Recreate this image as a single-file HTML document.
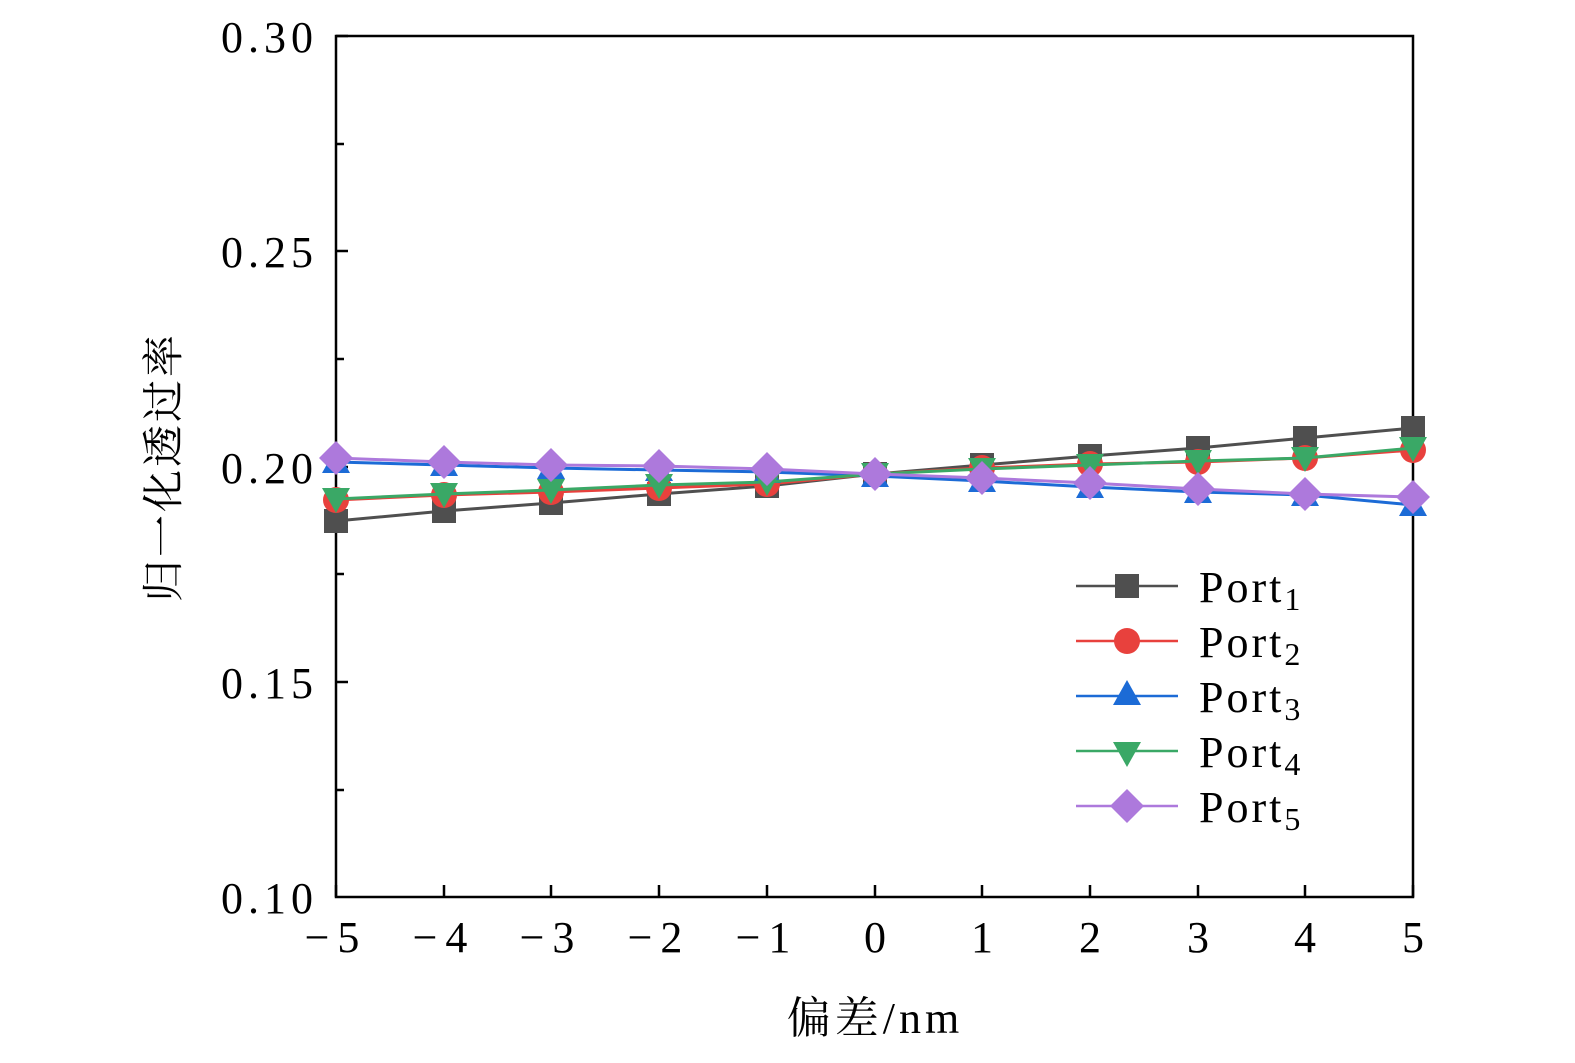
<!DOCTYPE html>
<html><head><meta charset="utf-8"><style>html,body{margin:0;padding:0;background:#fff;overflow:hidden;width:1575px;height:1063px}svg{display:block}</style></head>
<body>
<svg width="1575" height="1063" xmlns="http://www.w3.org/2000/svg" font-family="Liberation Serif, 'Noto Serif CJK SC', serif">
<rect width="1575" height="1063" fill="#fff"/>
<g stroke="#000" stroke-width="2.5" fill="none">
<rect x="336" y="36" width="1077" height="861"/>
<path d="M336 36h12M336 144h8M336 251h12M336 359h8M336 467h12M336 574h8M336 682h12M336 790h8"/>
<path d="M336 897v-12M444 897v-12M551 897v-12M659 897v-12M767 897v-12M875 897v-12M982 897v-12M1090 897v-12M1198 897v-12M1305 897v-12M1413 897v-12"/>
</g>
<g font-size="44" text-anchor="end" letter-spacing="5">
<text x="318" y="52">0.30</text><text x="318" y="267">0.25</text><text x="318" y="483">0.20</text><text x="318" y="698">0.15</text><text x="318" y="913">0.10</text>
</g>
<g font-size="44" text-anchor="middle">
<text x="336" y="952" letter-spacing="8">−5</text><text x="444" y="952" letter-spacing="8">−4</text><text x="551" y="952" letter-spacing="8">−3</text><text x="659" y="952" letter-spacing="8">−2</text><text x="767" y="952" letter-spacing="8">−1</text><text x="875" y="952">0</text><text x="982" y="952">1</text><text x="1090" y="952">2</text><text x="1198" y="952">3</text><text x="1305" y="952">4</text><text x="1413" y="952">5</text>
<text x="875" y="1033" letter-spacing="4">偏差/nm</text>
</g>
<text transform="translate(178,467) rotate(-90)" font-size="42" text-anchor="middle" letter-spacing="3">归一化透过率</text>
<defs>
<rect id="sq" x="-12" y="-12" width="24" height="24" fill="#4f4f4f"/>
<circle id="ci" r="13" fill="#e8413d"/>
<path id="tu" d="M0-14L14 11H-14Z" fill="#1c6bd6"/>
<path id="td" d="M0 14L14-11H-14Z" fill="#3aa866"/>
<path id="di" d="M0-17L17 0 0 17-17 0Z" fill="#ad79dc"/>
</defs>
<polyline fill="none" stroke="#4f4f4f" stroke-width="3" points="336,521 444,511 551,503 659,494 767,486 875,474 982,465 1090,456 1198,448 1305,438 1413,428"/>
<g><use href="#sq" x="336" y="521"/><use href="#sq" x="444" y="511"/><use href="#sq" x="551" y="503"/><use href="#sq" x="659" y="494"/><use href="#sq" x="767" y="486"/><use href="#sq" x="875" y="474"/><use href="#sq" x="982" y="465"/><use href="#sq" x="1090" y="456"/><use href="#sq" x="1198" y="448"/><use href="#sq" x="1305" y="438"/><use href="#sq" x="1413" y="428"/></g>
<polyline fill="none" stroke="#e8413d" stroke-width="3" points="336,500 444,495 551,492 659,488 767,484 875,474 982,468 1090,464 1198,462 1305,458 1413,450"/>
<g><use href="#ci" x="336" y="500"/><use href="#ci" x="444" y="495"/><use href="#ci" x="551" y="492"/><use href="#ci" x="659" y="488"/><use href="#ci" x="767" y="484"/><use href="#ci" x="875" y="474"/><use href="#ci" x="982" y="468"/><use href="#ci" x="1090" y="464"/><use href="#ci" x="1198" y="462"/><use href="#ci" x="1305" y="458"/><use href="#ci" x="1413" y="450"/></g>
<polyline fill="none" stroke="#1c6bd6" stroke-width="3" points="336,462 444,465 551,468 659,470 767,472 875,476 982,481 1090,487 1198,492 1305,495 1413,505"/>
<g><use href="#tu" x="336" y="462"/><use href="#tu" x="444" y="465"/><use href="#tu" x="551" y="468"/><use href="#tu" x="659" y="470"/><use href="#tu" x="767" y="472"/><use href="#tu" x="875" y="476"/><use href="#tu" x="982" y="481"/><use href="#tu" x="1090" y="487"/><use href="#tu" x="1198" y="492"/><use href="#tu" x="1305" y="495"/><use href="#tu" x="1413" y="505"/></g>
<polyline fill="none" stroke="#3aa866" stroke-width="3" points="336,499 444,494 551,490 659,485 767,482 875,474 982,469 1090,465 1198,461 1305,458 1413,448"/>
<g><use href="#td" x="336" y="499"/><use href="#td" x="444" y="494"/><use href="#td" x="551" y="490"/><use href="#td" x="659" y="485"/><use href="#td" x="767" y="482"/><use href="#td" x="875" y="474"/><use href="#td" x="982" y="469"/><use href="#td" x="1090" y="465"/><use href="#td" x="1198" y="461"/><use href="#td" x="1305" y="458"/><use href="#td" x="1413" y="448"/></g>
<polyline fill="none" stroke="#ad79dc" stroke-width="3" points="336,458 444,462 551,465 659,466 767,469 875,474 982,478 1090,483 1198,489 1305,494 1413,497"/>
<g><use href="#di" x="336" y="458"/><use href="#di" x="444" y="462"/><use href="#di" x="551" y="465"/><use href="#di" x="659" y="466"/><use href="#di" x="767" y="469"/><use href="#di" x="875" y="474"/><use href="#di" x="982" y="478"/><use href="#di" x="1090" y="483"/><use href="#di" x="1198" y="489"/><use href="#di" x="1305" y="494"/><use href="#di" x="1413" y="497"/></g>
<g stroke-width="2.5">
<line x1="1076" y1="586" x2="1178" y2="586" stroke="#4f4f4f"/><use href="#sq" x="1127" y="586"/>
<line x1="1076" y1="641" x2="1178" y2="641" stroke="#e8413d"/><use href="#ci" x="1127" y="641"/>
<line x1="1076" y1="696" x2="1178" y2="696" stroke="#1c6bd6"/><use href="#tu" x="1127" y="694"/>
<line x1="1076" y1="751" x2="1178" y2="751" stroke="#3aa866"/><use href="#td" x="1127" y="753"/>
<line x1="1076" y1="806" x2="1178" y2="806" stroke="#ad79dc"/><use href="#di" x="1127" y="806"/>
</g>
<g font-size="44" letter-spacing="3">
<text x="1199" y="602">Port<tspan font-size="32" dy="8">1</tspan></text>
<text x="1199" y="657">Port<tspan font-size="32" dy="8">2</tspan></text>
<text x="1199" y="712">Port<tspan font-size="32" dy="8">3</tspan></text>
<text x="1199" y="767">Port<tspan font-size="32" dy="8">4</tspan></text>
<text x="1199" y="822">Port<tspan font-size="32" dy="8">5</tspan></text>
</g>
</svg>
</body></html>
